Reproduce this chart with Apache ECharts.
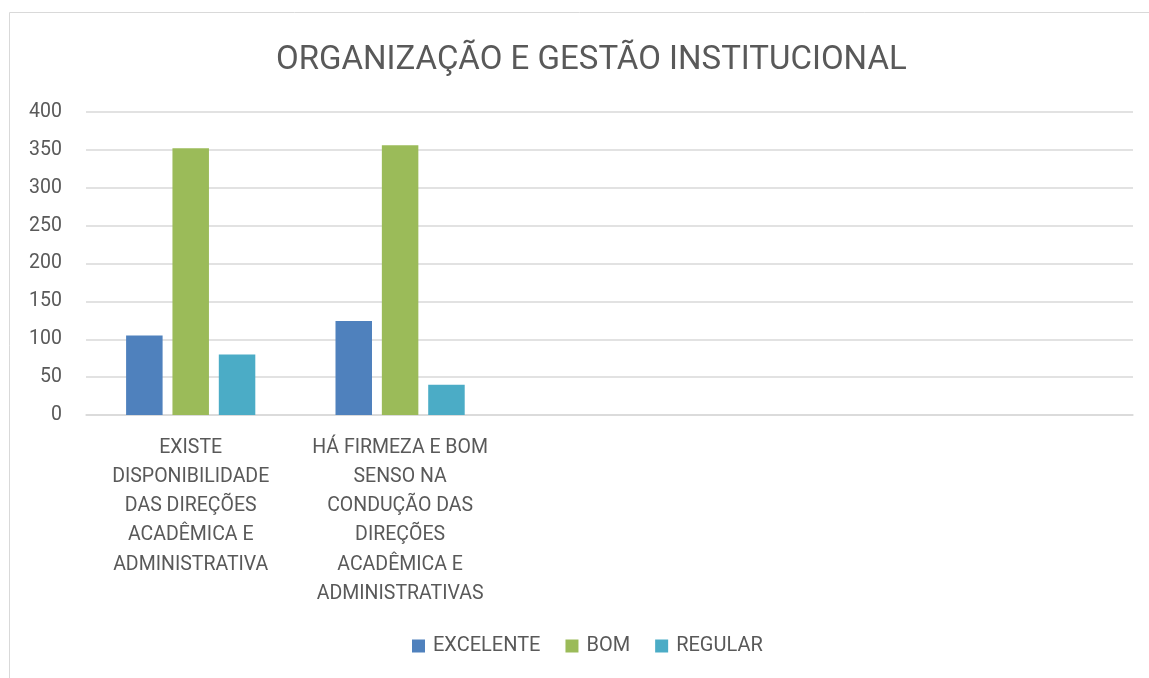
<!DOCTYPE html>
<html>
<head>
<meta charset="utf-8">
<script src="https://cdn.jsdelivr.net/npm/echarts@6/dist/echarts.min.js"></script>
<style>
  html, body { margin: 0; padding: 0; background: #fff; }
  #chart { width: 1149px; height: 678px; }
</style>
</head>
<body>
<div id="chart"></div>
<script>
'use strict';

var categories = [
  'EXISTE\nDISPONIBILIDADE\nDAS DIREÇÕES\nACADÊMICA E\nADMINISTRATIVA',
  'HÁ FIRMEZA E BOM\nSENSO NA\nCONDUÇÃO DAS\nDIREÇÕES\nACADÊMICA E\nADMINISTRATIVAS',
  '', '', ''
];
var excelente = [105, 124, null, null, null];
var bom = [352, 356, null, null, null];
var regular = [80, 40, null, null, null];

var font = 'Roboto, "Noto Sans", sans-serif';
var textColor = '#595959';

var chart = echarts.init(document.getElementById('chart'));

chart.setOption({
  animation: false,
  graphic: [{
    type: 'rect',
    shape: { x: 9.5, y: 12.5, width: 1300, height: 800 },
    style: { fill: 'none', stroke: '#d9d9d9', lineWidth: 1 },
    silent: true
  }],
  title: {
    text: 'ORGANIZAÇÃO E GESTÃO INSTITUCIONAL',
    left: 271,
    top: 39,
    textStyle: { fontFamily: font, fontSize: 33, fontWeight: 'normal', color: textColor }
  },
  legend: {
    bottom: 17,
    left: 407,
    itemWidth: 13,
    itemHeight: 13,
    itemGap: 25,
    icon: 'rect',
    textStyle: { fontFamily: font, fontSize: 20, color: textColor, padding: [0, 0, 0, 3] },
    data: ['EXCELENTE', 'BOM', 'REGULAR']
  },
  grid: { left: 86, right: 16, top: 112, bottom: 263, containLabel: false },
  xAxis: {
    type: 'category',
    data: categories,
    axisLine: { lineStyle: { color: '#d9d9d9', width: 1.5 } },
    axisTick: { show: false },
    axisLabel: {
      interval: 0,
      margin: 18,
      lineHeight: 29.3,
      fontFamily: font,
      fontSize: 19.5,
      color: textColor,
      align: 'center'
    }
  },
  yAxis: {
    type: 'value',
    min: 0,
    max: 400,
    interval: 50,
    axisLine: { show: false },
    axisTick: { show: false },
    splitLine: { lineStyle: { color: '#d9d9d9', width: 1.5 } },
    axisLabel: { margin: 24, fontFamily: font, fontSize: 19.5, color: textColor }
  },
  series: [
    { name: 'EXCELENTE', type: 'bar', data: excelente, barWidth: 36.5, barGap: '27%',
      itemStyle: { color: '#4F81BD' } },
    { name: 'BOM', type: 'bar', data: bom, barWidth: 36.5, barGap: '27%',
      itemStyle: { color: '#9BBB59' } },
    { name: 'REGULAR', type: 'bar', data: regular, barWidth: 36.5, barGap: '27%',
      itemStyle: { color: '#4BACC6' } }
  ]
});
</script>
</body>
</html>
